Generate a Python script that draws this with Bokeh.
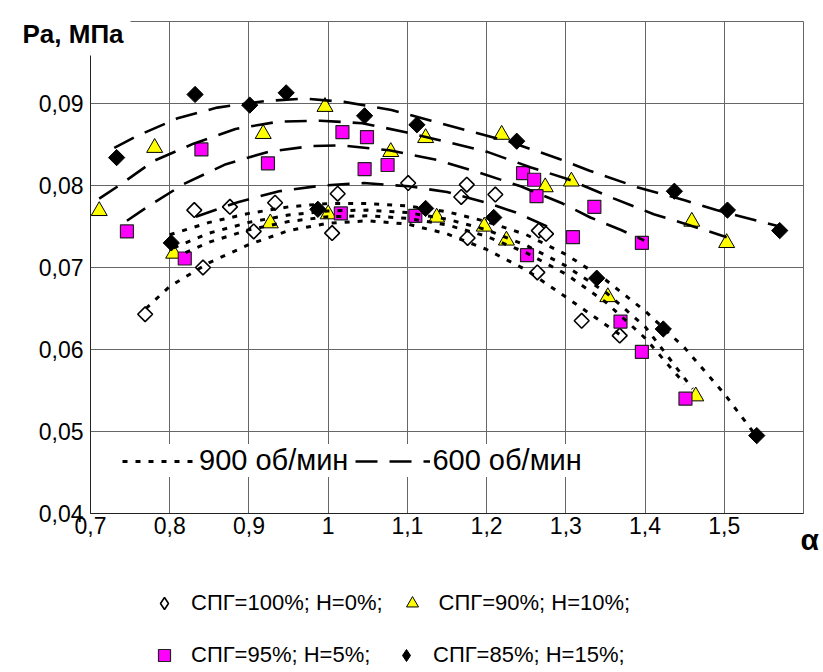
import math
from bokeh.plotting import figure
from bokeh.models import FixedTicker, Legend, LegendItem, Label, Range1d
from bokeh.embed import file_html
from bokeh.resources import INLINE

FONT = "Liberation Sans"

# ---- measured points: excess-air ratio alpha vs. pressure Pa, MPa ----
alpha_100 = [0.769, 0.842, 0.831, 0.876, 0.906, 0.933, 1.005, 1.012, 1.101, 1.168,
             1.175, 1.176, 1.211, 1.266, 1.275, 1.264, 1.320, 1.368]
pa_100 = [0.0643, 0.0700, 0.0770, 0.0774, 0.0744, 0.0779, 0.0742, 0.0790, 0.0803, 0.0786,
          0.0801, 0.0736, 0.0789, 0.0745, 0.0741, 0.0694, 0.0635, 0.0617]

alpha_90 = [0.711, 0.781, 0.805, 0.918, 0.927, 0.996, 1.000, 1.079, 1.123, 1.137,
            1.197, 1.219, 1.225, 1.274, 1.307, 1.353, 1.459, 1.464, 1.503]
pa_90 = [0.0769, 0.0846, 0.0717, 0.0863, 0.0754, 0.0896, 0.0765, 0.0841, 0.0858, 0.0761,
         0.0750, 0.0862, 0.0733, 0.0798, 0.0805, 0.0664, 0.0756, 0.0543, 0.0730]

alpha_95 = [0.746, 0.819, 0.840, 0.924, 1.016, 1.018, 1.046, 1.049, 1.075, 1.110,
            1.246, 1.251, 1.260, 1.263, 1.309, 1.336, 1.369, 1.396, 1.396, 1.451]
pa_95 = [0.0744, 0.0711, 0.0844, 0.0827, 0.0766, 0.0865, 0.0820, 0.0859, 0.0825, 0.0763,
         0.0815, 0.0715, 0.0807, 0.0787, 0.0737, 0.0774, 0.0634, 0.0730, 0.0597, 0.0540]

alpha_85 = [0.733, 0.802, 0.832, 0.901, 0.947, 0.987, 1.046, 1.112, 1.123, 1.209,
            1.238, 1.339, 1.423, 1.437, 1.504, 1.541, 1.570]
pa_85 = [0.0834, 0.0730, 0.0911, 0.0898, 0.0913, 0.0771, 0.0885, 0.0874, 0.0772, 0.0761,
         0.0854, 0.0687, 0.0625, 0.0793, 0.0770, 0.0495, 0.0745]

# ---- trend curves, 600 rpm (dashed) ----
t600_85_x = [0.73, 0.76, 0.81, 0.86, 0.92, 0.97, 1.02, 1.08, 1.13, 1.18, 1.23, 1.29,
             1.33, 1.39, 1.45, 1.49, 1.55, 1.57]
t600_85_y = [0.0846, 0.0861, 0.0882, 0.0895, 0.0903, 0.0906, 0.0902, 0.0892, 0.0879,
             0.0866, 0.0853, 0.0833, 0.0818, 0.0798, 0.0782, 0.0770, 0.0755, 0.0750]
t600_90_x = [0.711, 0.736, 0.78, 0.83, 0.883, 0.938, 0.99, 1.043, 1.098, 1.15, 1.201,
             1.256, 1.302, 1.361, 1.411, 1.458, 1.503]
t600_90_y = [0.0784, 0.0800, 0.0830, 0.0851, 0.0869, 0.0878, 0.0879, 0.0876, 0.0865,
             0.0853, 0.0841, 0.0822, 0.0808, 0.0784, 0.0765, 0.0751, 0.0737]
t600_95_x = [0.746, 0.772, 0.818, 0.871, 0.924, 0.978, 1.016, 1.077, 1.138, 1.19, 1.243,
             1.296, 1.331, 1.369, 1.399]
t600_95_y = [0.0757, 0.0774, 0.0802, 0.0826, 0.0841, 0.0848, 0.0849, 0.0843, 0.0831,
             0.0816, 0.0799, 0.0778, 0.0761, 0.0746, 0.0733]
t600_100_x = [0.833, 0.887, 0.938, 0.993, 1.045, 1.102, 1.15, 1.203, 1.237, 1.279]
t600_100_y = [0.0762, 0.0780, 0.0793, 0.0800, 0.0803, 0.0799, 0.0792, 0.0778, 0.0767, 0.0749]

# ---- trend curves, 900 rpm (dotted) ----
t900_100_x = [0.77, 0.80, 0.85, 0.90, 0.95, 1.00, 1.05, 1.10, 1.15, 1.20, 1.25, 1.30, 1.37]
t900_100_y = [0.0650, 0.0677, 0.0706, 0.0728, 0.0745, 0.0754, 0.0757, 0.0753, 0.0741,
              0.0722, 0.0697, 0.0664, 0.0617]
t900_85_x = [0.80, 0.85, 0.90, 0.95, 1.00, 1.05, 1.10, 1.15, 1.20, 1.25, 1.30, 1.35,
             1.40, 1.45, 1.50, 1.54]
t900_85_y = [0.0740, 0.0755, 0.0766, 0.0774, 0.0778, 0.0778, 0.0775, 0.0768, 0.0756,
             0.0740, 0.0716, 0.0685, 0.0647, 0.0602, 0.0546, 0.0495]
t900_90_x = [0.805, 0.85, 0.90, 0.95, 1.00, 1.05, 1.10, 1.15, 1.20, 1.25, 1.30, 1.35,
             1.40, 1.46]
t900_90_y = [0.0724, 0.0742, 0.0755, 0.0764, 0.0769, 0.0770, 0.0767, 0.0759, 0.0746,
             0.0727, 0.0702, 0.0670, 0.0628, 0.0552]
t900_95_x = [0.82, 0.85, 0.90, 0.95, 1.00, 1.05, 1.10, 1.15, 1.20, 1.25, 1.30, 1.35,
             1.40, 1.45]
t900_95_y = [0.0718, 0.0731, 0.0746, 0.0756, 0.0762, 0.0763, 0.0760, 0.0752, 0.0738,
             0.0718, 0.0692, 0.0658, 0.0614, 0.0558]

# ---- axes ----
x_ticks = [0.7, 0.8, 0.9, 1.0, 1.1, 1.2, 1.3, 1.4, 1.5, 1.6]
x_tick_labels = ["0,7", "0,8", "0,9", "1", "1,1", "1,2", "1,3", "1,4", "1,5", ""]
y_ticks = [0.04, 0.05, 0.06, 0.07, 0.08, 0.09, 0.10]
y_tick_labels = ["0,04", "0,05", "0,06", "0,07", "0,08", "0,09", ""]

series_labels = ["СПГ=100%; Н=0%;", "СПГ=90%; Н=10%;", "СПГ=95%; Н=5%;", "СПГ=85%; Н=15%;"]
speed_labels = ["900 об/мин", "600 об/мин"]

# The canvas is one frame; the plotting box (0.7..1.6 x 0.04..0.10) sits inside it
# at pixels 90..803 x 21..513, leaving room for the keys and titles around it.
W, H = 823, 672
BOX_L, BOX_R, BOX_T, BOX_B = 90, 803, 21, 513
X0, X1 = x_ticks[0], x_ticks[-1]
Y0, Y1 = y_ticks[0], y_ticks[-1]
kx = (BOX_R - BOX_L) / (X1 - X0)
ky = (BOX_B - BOX_T) / (Y1 - Y0)
x_range = Range1d(X0 - BOX_L / kx, X1 + (W - BOX_R) / kx)
y_range = Range1d(Y0 - (H - BOX_B) / ky, Y1 + BOX_T / ky)

p = figure(frame_width=W, frame_height=H, min_border=0,
           x_range=x_range, y_range=y_range,
           output_backend="svg", toolbar_location=None,
           background_fill_color="white", border_fill_color="white")
p.outline_line_color = None

for ax in (p.xaxis[0], p.yaxis[0]):
    ax.axis_line_color = "#222222"
    ax.major_tick_in = 0
    ax.major_tick_out = 0
    ax.minor_tick_line_color = None
    ax.major_label_text_font = FONT
    ax.major_label_text_font_size = "23px"
    ax.major_label_text_color = "black"

p.xaxis.fixed_location = Y0
p.xaxis.bounds = (X0, X1)
p.xaxis.ticker = FixedTicker(ticks=x_ticks)
p.xaxis.major_label_overrides = dict(zip(x_ticks, x_tick_labels))
p.xaxis.major_label_standoff = 3

p.yaxis.fixed_location = X0
p.yaxis.bounds = (Y0, Y1)
p.yaxis.ticker = FixedTicker(ticks=y_ticks)
p.yaxis.major_label_overrides = dict(zip(y_ticks, y_tick_labels))
p.yaxis.major_label_standoff = 7

p.xgrid.ticker = FixedTicker(ticks=x_ticks)
p.ygrid.ticker = FixedTicker(ticks=y_ticks)
p.xgrid.bounds = (X0, X1)
p.xgrid.cross_bounds = (Y0, Y1)
p.ygrid.bounds = (Y0, Y1)
p.ygrid.cross_bounds = (X0, X1)
p.grid.grid_line_color = "#666666"
p.grid.grid_line_width = 1

DIAMOND_ANGLE = math.pi / 4

r100 = p.scatter(alpha_100, pa_100, marker="square", angle=DIAMOND_ANGLE, size=10.5,
                 fill_color="white", line_color="black", line_width=1.6)
r90 = p.scatter(alpha_90, pa_90, marker="triangle", size=16,
                fill_color="#ffff00", line_color="black", line_width=1)
r95 = p.scatter(alpha_95, pa_95, marker="square", size=13,
                fill_color="#ff00ff", line_color="#222222", line_width=1.2)
r85 = p.scatter(alpha_85, pa_85, marker="square", angle=DIAMOND_ANGLE, size=11.5,
                fill_color="black", line_color="black", line_width=1)

DASH_600 = "22 12"
DOT_900 = "5 8"
dashed = []
for xs, ys in ((t600_85_x, t600_85_y), (t600_90_x, t600_90_y),
               (t600_95_x, t600_95_y), (t600_100_x, t600_100_y)):
    dashed.append(p.line(xs, ys, line_color="black", line_width=2.6, line_dash=DASH_600))
dotted = []
for xs, ys in ((t900_100_x, t900_100_y), (t900_85_x, t900_85_y),
               (t900_90_x, t900_90_y), (t900_95_x, t900_95_y)):
    dotted.append(p.line(xs, ys, line_color="black", line_width=3, line_dash=DOT_900))

# key symbols (a single undefined point each, so only the key shows them)
NO_POINT = [float("nan")]
key_100 = p.scatter(NO_POINT, NO_POINT, marker="diamond", fill_color="white",
                    line_color="black", line_width=1.6)
key_90 = p.scatter(NO_POINT, NO_POINT, marker="triangle", fill_color="#ffff00",
                   line_color="black", line_width=1)
key_95 = p.scatter(NO_POINT, NO_POINT, marker="square", fill_color="#ff00ff",
                   line_color="#222222", line_width=1.2)
key_85 = p.scatter(NO_POINT, NO_POINT, marker="diamond", fill_color="black",
                   line_color="black", line_width=1)

# speed key inside the plotting box
speed_legend = Legend(
    items=[LegendItem(label=speed_labels[0], renderers=[dotted[0]]),
           LegendItem(label=speed_labels[1], renderers=[dashed[0]])],
    orientation="horizontal", location=(122, 195), padding=1, margin=0,
    glyph_width=75, glyph_height=30, label_standoff=2, spacing=7,
    label_text_font=FONT, label_text_font_size="29px", label_text_color="black",
    background_fill_color="white", background_fill_alpha=1, border_line_color=None)
p.add_layout(speed_legend)


def series_row(items, y):
    return Legend(items=items, orientation="horizontal", location=(149, y),
                  padding=0, margin=0, glyph_width=30, glyph_height=30,
                  label_standoff=12, spacing=14, label_width=186,
                  label_text_font=FONT, label_text_font_size="22px",
                  label_text_color="black",
                  background_fill_alpha=0, border_line_color=None)


p.add_layout(series_row([LegendItem(label=series_labels[0], renderers=[key_100]),
                         LegendItem(label=series_labels[1], renderers=[key_90])], 54))
p.add_layout(series_row([LegendItem(label=series_labels[2], renderers=[key_95]),
                         LegendItem(label=series_labels[3], renderers=[key_85])], 2))

# axis titles
p.add_layout(Label(x=15, y=H - 33, x_units="screen", y_units="screen", text="Pa, МПа",
                   text_font=FONT, text_font_size="26px", text_font_style="bold",
                   text_baseline="alphabetic", text_color="black",
                   background_fill_color="white", background_fill_alpha=1, padding=7))
p.add_layout(Label(x=800, y=H - 539, x_units="screen", y_units="screen", text="α",
                   text_font=FONT, text_font_size="30px", text_font_style="bold",
                   text_baseline="alphabetic", text_color="black"))

open("out.html", "w").write(file_html(p, INLINE))
